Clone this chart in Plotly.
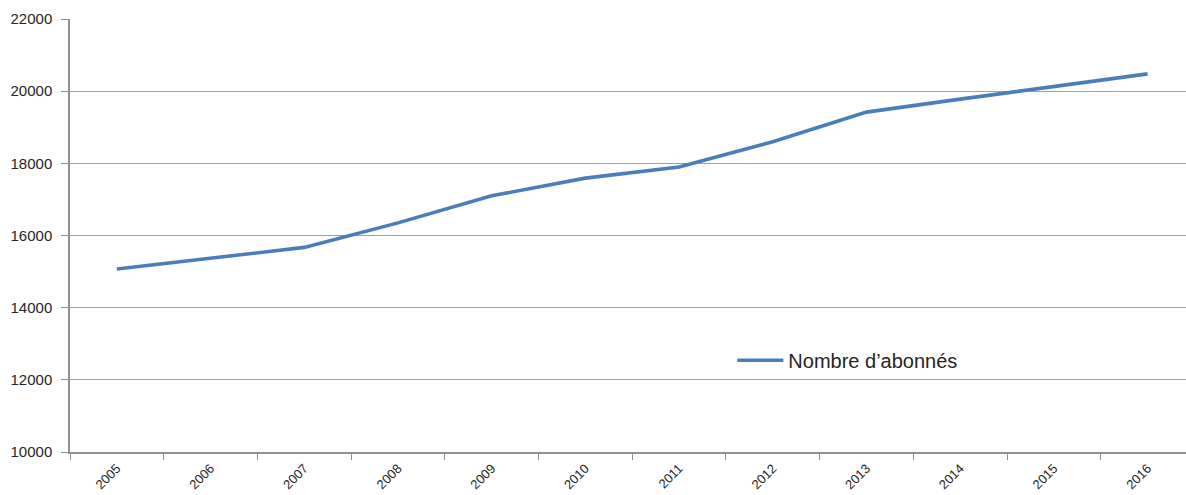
import plotly.graph_objects as go

# Subscriber count per year
years = ["2005", "2006", "2007", "2008", "2009", "2010",
         "2011", "2012", "2013", "2014", "2015", "2016"]
subscribers = [15070, 15370, 15670, 16350, 17100, 17590,
               17900, 18600, 19420, 19780, 20130, 20480]
y_ticks = [10000, 12000, 14000, 16000, 18000, 20000, 22000]

fig = go.Figure()
fig.add_trace(go.Scatter(
    x=years, y=subscribers, mode="lines",
    name="Nombre d\u2019abonnés",
    line=dict(color="#4A7EBB", width=3.6),
))

axis_grey = "#8f8f8f"
fig.update_layout(
    width=1186, height=495,
    margin=dict(l=70, r=0, t=19, b=43, autoexpand=False),
    paper_bgcolor="white", plot_bgcolor="white",
    font=dict(family="Liberation Sans", color="#262626"),
    showlegend=True,
    legend=dict(
        x=0.5935, y=0.212, xanchor="left", yanchor="middle",
        bgcolor="rgba(0,0,0,0)", borderwidth=0,
        font=dict(size=20, color="#262626"),
        itemwidth=46,
    ),
    xaxis=dict(
        type="category", range=[-0.5, 11.41],
        tickson="boundaries", ticks="outside", ticklen=6,
        tickcolor=axis_grey, tickwidth=1.3,
        showline=True, linecolor=axis_grey, linewidth=1.5,
        showgrid=False, zeroline=False,
        tickangle=-45, tickfont=dict(size=13, color="#262626"),
        ticklabelstandoff=2,
        automargin=False,
    ),
    yaxis=dict(
        range=[10000, 22000], tickvals=y_ticks,
        ticktext=[str(v) for v in y_ticks],
        ticks="outside", ticklen=7, tickcolor=axis_grey, tickwidth=1.3,
        showline=True, linecolor=axis_grey, linewidth=1.5,
        showgrid=True, gridcolor="#9f9f9f", gridwidth=1.3,
        zeroline=False, tickfont=dict(size=15, color="#262626"),
        ticklabelstandoff=6,
        automargin=False,
    ),
)

fig.write_html("out.html")
